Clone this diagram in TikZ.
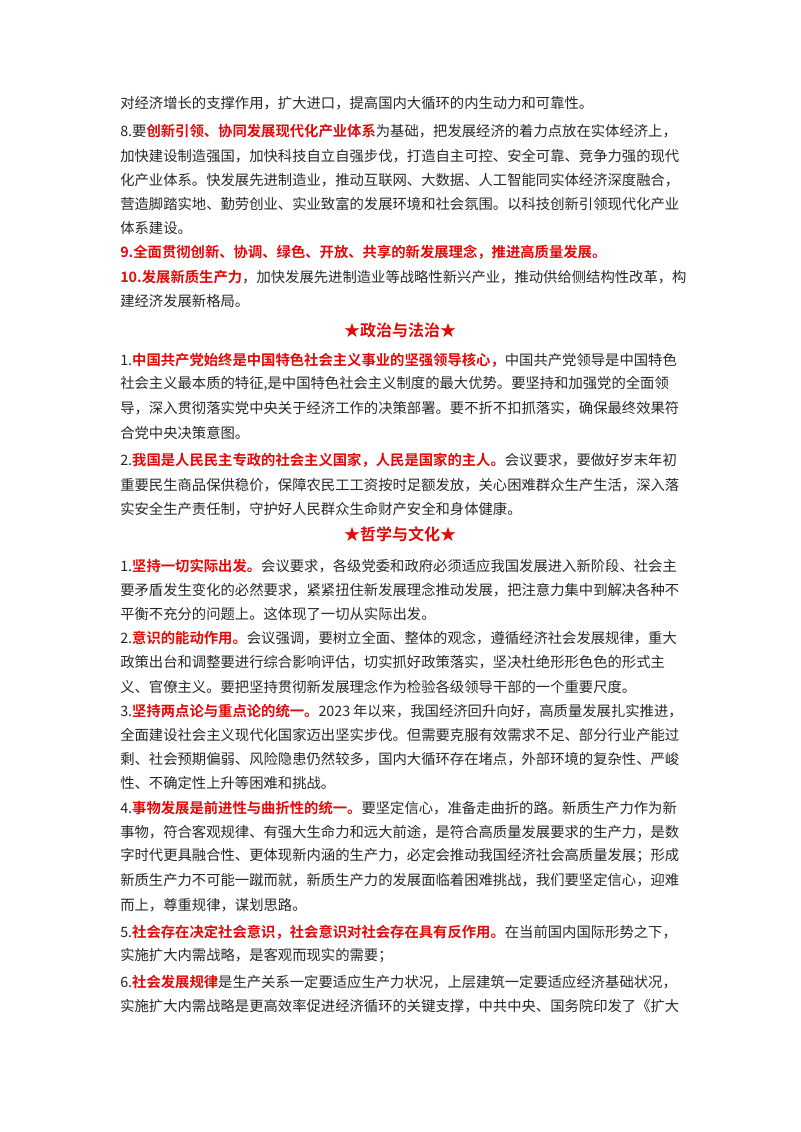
\documentclass[tikz,border=0pt]{standalone}
\usepackage{fontspec}
\newfontfamily\cjk{Noto Sans CJK SC}[BoldFont={Noto Sans CJK SC Bold}]
\definecolor{bodyc}{RGB}{40,40,40}
\definecolor{redc}{RGB}{228,10,10}
\newcommand\R[1]{{\bfseries\color{redc}#1}}
\newcommand\F[1]{\hbox to 422pt{#1}}
\newcommand\zhset{\XeTeXlinebreaklocale "zh"\XeTeXlinebreakskip=0pt plus 3pt\relax}
\tikzset{
  ln/.style={anchor=west, inner sep=0pt, font=\zhset\cjk\fontsize{10.75pt}{12pt}\selectfont, text=bodyc},
  hd/.style={anchor=center, inner sep=0pt, font=\cjk\bfseries\fontsize{12pt}{14pt}\selectfont, text=redc}
}
\begin{document}
\XeTeXlinebreaklocale "zh"
\XeTeXlinebreakskip=0pt plus 3pt
\begin{tikzpicture}[x=0.75pt,y=-0.75pt]
\useasboundingbox (0,0) rectangle (800,1132);
\fill[white] (0,0) rectangle (800,1132);
\node[ln] (a1) at (120,103) {对经济增长的支撑作用，扩大进口，提高国内大循环的内生动力和可靠性。};
\node[ln] (a2) at (120,131) {\F{8.要\R{创新引领、协同发展现代化产业体系}为基础，把发展经济的着力点放在实体经济上，}};
\node[ln] (a3) at (120,156) {\F{加快建设制造强国，加快科技自立自强步伐，打造自主可控、安全可靠、竞争力强的现代}};
\node[ln] (a4) at (120,180) {\F{化产业体系。快发展先进制造业，推动互联网、大数据、人工智能同实体经济深度融合，}};
\node[ln] (a5) at (120,204) {\F{营造脚踏实地、勤劳创业、实业致富的发展环境和社会氛围。以科技创新引领现代化产业}};
\node[ln] (a6) at (120,228) {体系建设。};
\node[ln] (a7) at (120,252) {\R{9.全面贯彻创新、协调、绿色、开放、共享的新发展理念，推进高质量发展。}};
\node[ln] (a8) at (120,277) {\F{\R{10.发展新质生产力}，加快发展先进制造业等战略性新兴产业，推动供给侧结构性改革，构}};
\node[ln] (a9) at (120,301) {建经济发展新格局。};
\node[hd] (h1) at (400,330) {★政治与法治★};
\node[ln] (b1) at (120,360) {\F{1.\R{中国共产党始终是中国特色社会主义事业的坚强领导核心，}中国共产党领导是中国特色}};
\node[ln] (b2) at (120,384) {\F{社会主义最本质的特征,是中国特色社会主义制度的最大优势。要坚持和加强党的全面领}};
\node[ln] (b3) at (120,408) {\F{导，深入贯彻落实党中央关于经济工作的决策部署。要不折不扣抓落实，确保最终效果符}};
\node[ln] (b4) at (120,433) {合党中央决策意图。};
\node[ln] (b5) at (120,460) {\F{2.\R{我国是人民民主专政的社会主义国家，人民是国家的主人。}会议要求，要做好岁末年初}};
\node[ln] (b6) at (120,485) {\F{重要民生商品保供稳价，保障农民工工资按时足额发放，关心困难群众生产生活，深入落}};
\node[ln] (b7) at (120,509) {实安全生产责任制，守护好人民群众生命财产安全和身体健康。};
\node[hd] (h2) at (400,534) {★哲学与文化★};
\node[ln] (c1) at (120,566) {\F{1.\R{坚持一切实际出发。}会议要求，各级党委和政府必须适应我国发展进入新阶段、社会主}};
\node[ln] (c2) at (120,590) {\F{要矛盾发生变化的必然要求，紧紧扭住新发展理念推动发展，把注意力集中到解决各种不}};
\node[ln] (c3) at (120,614) {平衡不充分的问题上。这体现了一切从实际出发。};
\node[ln] (c4) at (120,638) {\F{2.\R{意识的能动作用。}会议强调，要树立全面、整体的观念，遵循经济社会发展规律，重大}};
\node[ln] (c5) at (120,662) {\F{政策出台和调整要进行综合影响评估，切实抓好政策落实，坚决杜绝形形色色的形式主}};
\node[ln] (c6) at (120,687) {义、官僚主义。要把坚持贯彻新发展理念作为检验各级领导干部的一个重要尺度。};
\node[ln] (c7) at (120,711) {\F{3.\R{坚持两点论与重点论的统一。}2023\kern2pt 年以来，我国经济回升向好，高质量发展扎实推进，}};
\node[ln] (c8) at (120,735) {\F{全面建设社会主义现代化国家迈出坚实步伐。但需要克服有效需求不足、部分行业产能过}};
\node[ln] (c9) at (120,759) {\F{剩、社会预期偏弱、风险隐患仍然较多，国内大循环存在堵点，外部环境的复杂性、严峻}};
\node[ln] (c10) at (120,783) {性、不确定性上升等困难和挑战。};
\node[ln] (c11) at (120,808) {\F{4.\R{事物发展是前进性与曲折性的统一。}要坚定信心，准备走曲折的路。新质生产力作为新}};
\node[ln] (c12) at (120,832) {\F{事物，符合客观规律、有强大生命力和远大前途，是符合高质量发展要求的生产力，是数}};
\node[ln] (c13) at (120,856) {\F{字时代更具融合性、更体现新内涵的生产力，必定会推动我国经济社会高质量发展；形成}};
\node[ln] (c14) at (120,880) {\F{新质生产力不可能一蹴而就，新质生产力的发展面临着困难挑战，我们要坚定信心，迎难}};
\node[ln] (c15) at (120,905) {而上，尊重规律，谋划思路。};
\node[ln] (c16) at (120,932) {\F{5.\R{社会存在决定社会意识，社会意识对社会存在具有反作用。}在当前国内国际形势之下，}};
\node[ln] (c17) at (120,956) {实施扩大内需战略，是客观而现实的需要；};
\node[ln] (c18) at (120,982) {\F{6.\R{社会发展规律}是生产关系一定要适应生产力状况，上层建筑一定要适应经济基础状况，}};
\node[ln] (c19) at (120,1006) {\F{实施扩大内需战略是更高效率促进经济循环的关键支撑，中共中央、国务院印发了《扩大}};
\end{tikzpicture}
\end{document}
